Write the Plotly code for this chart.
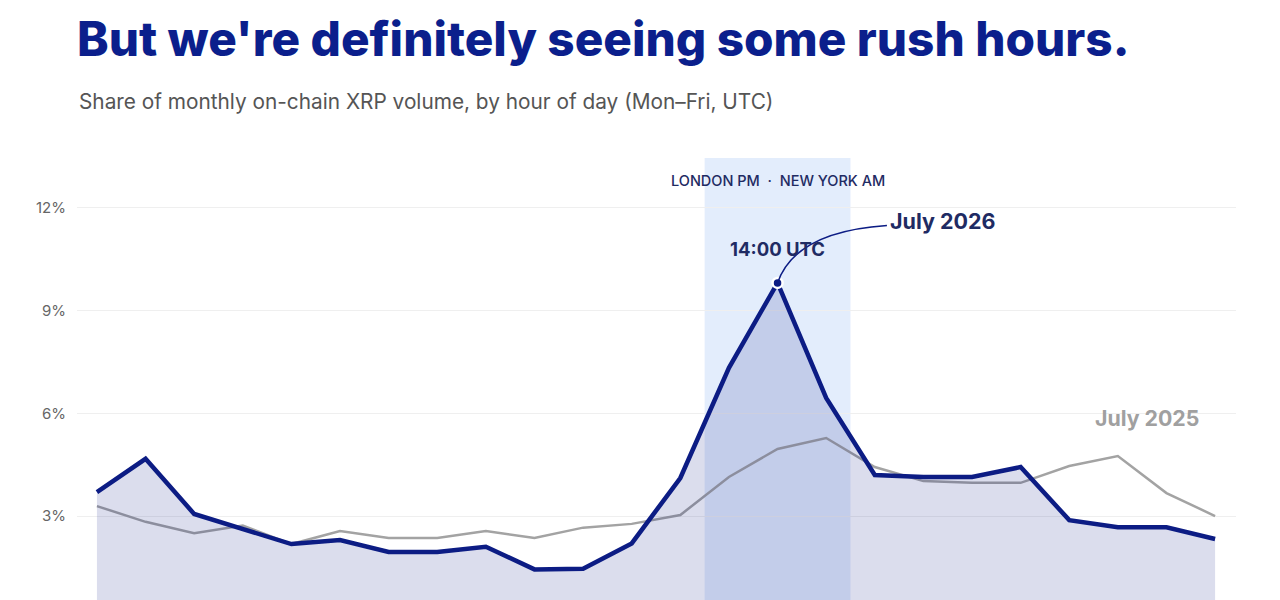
import plotly.graph_objects as go

hours = list(range(24))
july_2026 = [3.70, 4.67, 3.06, 2.63, 2.18, 2.30, 1.95, 1.95, 2.10, 1.44, 1.46, 2.20,
             4.11, 7.33, 9.81, 6.45, 4.20, 4.14, 4.14, 4.43, 2.88, 2.67, 2.67, 2.33]
july_2025 = [3.29, 2.83, 2.50, 2.72, 2.18, 2.56, 2.36, 2.36, 2.56, 2.36, 2.66, 2.77,
             3.03, 4.14, 4.96, 5.28, 4.43, 4.02, 3.97, 3.97, 4.46, 4.75, 3.67, 3.00]
y_ticks = [3, 6, 9, 12]
y_tick_labels = ['3%', '6%', '9%', '12%']
band_hours = [12.5, 15.5]
peak_hour = 14

navy = '#0c1c84'
grey = '#a3a3a3'
label_navy = '#1f2b63'

fig = go.Figure()

# grey line for last year, no fill
fig.add_trace(go.Scatter(x=hours, y=july_2025, mode='lines', name='July 2025',
                         line=dict(color=grey, width=2.5), showlegend=False))
# this year with the shaded area under it
fig.add_trace(go.Scatter(x=hours, y=july_2026, mode='lines', name='July 2026',
                         fill='tozeroy', fillcolor='rgba(12,28,132,0.15)',
                         line=dict(color=navy, width=4.5), showlegend=False))
# dot at the peak
fig.add_trace(go.Scatter(x=[peak_hour], y=[july_2026[peak_hour]], mode='markers',
                         marker=dict(color=navy, size=10, line=dict(color='white', width=2.5)),
                         showlegend=False, hoverinfo='skip'))

# london pm / new york am band
fig.add_shape(type='rect', xref='x', yref='paper', x0=band_hours[0], x1=band_hours[1],
              y0=0, y1=1, fillcolor='#e3edfc', line=dict(width=0), layer='between')

# curved leader line from the peak to the label
px, py = peak_hour, july_2026[peak_hour]
fig.add_shape(type='path', xref='x', yref='y',
              path=f'M {px},{py} Q {px + 0.36},{py + 1.5} {px + 2.25},{py + 1.68}',
              line=dict(color=navy, width=1.5), layer='above')

fig.add_annotation(x=sum(band_hours) / 2, y=12.79, text='LONDON PM  ·  NEW YORK AM',
                   showarrow=False, font=dict(family='Inter', size=14.5, color=label_navy, weight=500))
fig.add_annotation(x=peak_hour, y=10.80, text='14:00 UTC', showarrow=False,
                   font=dict(family='Inter', size=18.5, color=label_navy, weight=700))
fig.add_annotation(x=16.27, y=11.62, text='July 2026', showarrow=False, xanchor='left',
                   font=dict(family='Inter', size=21.5, color=label_navy, weight=700))
fig.add_annotation(x=21.6, y=5.87, text='July 2025', showarrow=False,
                   font=dict(family='Inter', size=21.3, color='#a0a0a0', weight=700))

fig.add_annotation(xref='paper', yref='paper', x=0, y=(600 - 101) / 442, xanchor='left',
                   yanchor='middle', showarrow=False,
                   text='Share of monthly on-chain XRP volume, by hour of day (Mon\u2013Fri, UTC)',
                   font=dict(family='Inter', size=20.8, color='#555555'))

fig.update_layout(
    width=1280, height=600,
    margin=dict(l=77, r=44, t=158, b=0),
    paper_bgcolor='white', plot_bgcolor='white',
    title=dict(text="But we're definitely seeing some rush hours.",
               x=77 / 1280, xanchor='left', xref='container',
               y=1 - 39 / 600, yanchor='middle', yref='container',
               font=dict(family='Inter', size=47.7, color='#0b1f8c', weight=800)),
    xaxis=dict(range=[-0.41, 23.43], showgrid=False, showticklabels=False,
               zeroline=False, showline=False),
    yaxis=dict(range=[0.546, 13.46], tickvals=y_ticks, ticktext=y_tick_labels,
               showgrid=True, gridcolor='#efefef', gridwidth=1, zeroline=False,
               showline=False, ticks='', ticklabelstandoff=10,
               tickfont=dict(family='Inter', size=15, color='#666666')),
    showlegend=False,
)

fig.write_html('out.html', config={'displayModeBar': False},
               post_script="document.body.style.margin='0';")
